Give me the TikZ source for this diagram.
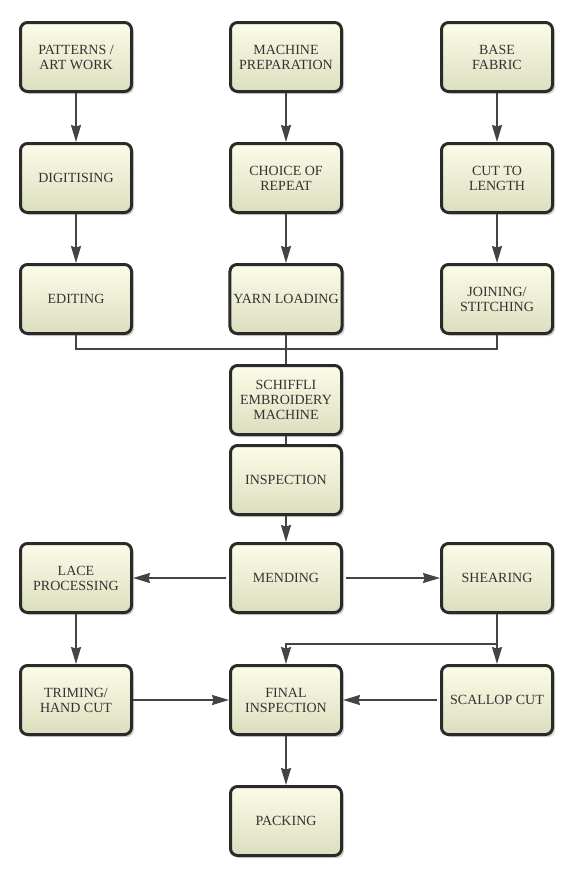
\documentclass[tikz,border=0pt]{standalone}
\usepackage{fontspec}
\setmainfont{Liberation Serif}
\usetikzlibrary{arrows.meta,shadows}
\definecolor{boxtop}{HTML}{FCFCE8}
\definecolor{boxbot}{HTML}{DCDEBF}
\definecolor{boxline}{HTML}{2A2A2A}
\definecolor{connc}{HTML}{444444}
\definecolor{txt}{HTML}{333333}
\begin{document}
\begin{tikzpicture}[x=1pt,y=-1pt,
 stepbox/.style={draw=boxline, line width=3pt, rounded corners=7pt, top color=boxtop, bottom color=boxbot,
   minimum width=111pt, minimum height=69pt, align=center, font=\fontsize{14}{15}\selectfont, text=txt,
   drop shadow={shadow xshift=2.5pt, shadow yshift=-2.5pt, opacity=0.35}},
 conn/.style={draw=connc, line width=1.8pt},
 arr/.style={conn, -{Stealth[length=17pt,width=10pt,inset=1.5pt]}}]
\useasboundingbox (0,0) rectangle (569,870);
\node[stepbox] (pat)  at (76,57)   {PATTERNS /\\ART WORK};
\node[stepbox] (mach) at (286,57)  {MACHINE\\PREPARATION};
\node[stepbox] (base) at (497,57)  {BASE\\FABRIC};
\node[stepbox] (dig)  at (76,178)  {DIGITISING};
\node[stepbox] (cho)  at (286,178) {CHOICE OF\\REPEAT};
\node[stepbox] (cut)  at (497,178) {CUT TO\\LENGTH};
\node[stepbox] (edi)  at (76,299)  {EDITING};
\node[stepbox] (yarn) at (286,299) {YARN LOADING};
\node[stepbox] (join) at (497,299) {JOINING/\\STITCHING};
\node[stepbox] (sch)  at (286,400) {SCHIFFLI\\EMBROIDERY\\MACHINE};
\node[stepbox] (ins)  at (286,480) {INSPECTION};
\node[stepbox] (men)  at (286,578) {MENDING};
\node[stepbox] (lace) at (76,578)  {LACE\\PROCESSING};
\node[stepbox] (shr)  at (497,578) {SHEARING};
\node[stepbox] (trim) at (76,700)  {TRIMING/\\HAND CUT};
\node[stepbox] (fin)  at (286,700) {FINAL\\INSPECTION};
\node[stepbox] (scal) at (497,700) {SCALLOP CUT};
\node[stepbox] (pack) at (286,821) {PACKING};
\coordinate (jm) at (286,349);
\coordinate (br) at (497,644);
\draw[arr] (pat) -- (dig);
\draw[arr] (dig) -- (edi);
\draw[arr] (mach) -- (cho);
\draw[arr] (cho) -- (yarn);
\draw[arr] (base) -- (cut);
\draw[arr] (cut) -- (join);
\draw[conn] (edi.south) |- (jm);
\draw[conn] (join.south) |- (jm);
\draw[conn] (yarn) -- (sch);
\draw[conn] (sch) -- (ins);
\draw[arr] (ins) -- (men);
\draw[arr,shorten <=3pt] (men) -- (lace);
\draw[arr,shorten <=3pt] (men) -- (shr);
\draw[arr] (lace) -- (trim);
\draw[arr] (shr) -- (scal);
\draw[arr] (br) -| (fin.north);
\draw[arr] (trim) -- (fin);
\draw[arr,shorten <=3pt] (scal) -- (fin);
\draw[arr] (fin) -- (pack);
\end{tikzpicture}
\end{document}
